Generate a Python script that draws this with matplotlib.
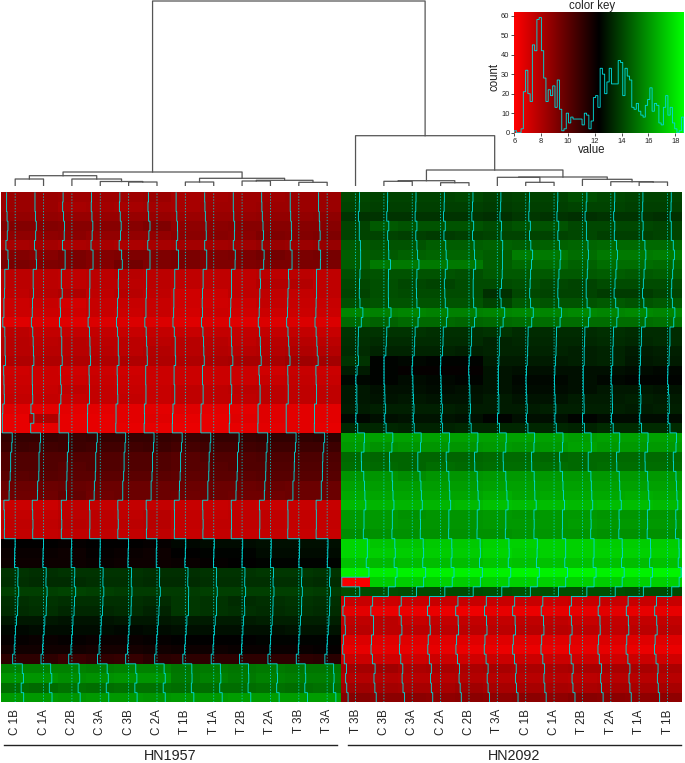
import numpy as np
import matplotlib
matplotlib.use('Agg')
import matplotlib.pyplot as plt
from matplotlib.colors import LinearSegmentedColormap

plt.rcParams['font.family'] = ['Liberation Sans', 'DejaVu Sans']

# column labels in dendrogram order
labels_hn1957 = ['C 1B', 'C 1A', 'C 2B', 'C 3A', 'C 3B', 'C 2A', 'T 1B', 'T 1A', 'T 2B', 'T 2A', 'T 3B', 'T 3A']
labels_hn2092 = ['T 3B', 'C 3B', 'C 3A', 'C 2A', 'C 2B', 'T 3A', 'C 1B', 'C 1A', 'T 2B', 'T 2A', 'T 1A', 'T 1B']

# values, one row per gene
values_hn1957 = [
    [8.5, 8.5, 8.4, 8.4, 8.4, 8.5, 8.2, 8.3, 8.4, 8.4, 8.5, 8.5],
    [8.5, 8.5, 8.2, 8.3, 8.2, 8.3, 8.2, 8.4, 8.4, 8.5, 8.5, 8.5],
    [8.7, 8.7, 8.6, 8.6, 8.6, 8.6, 8.5, 8.6, 8.6, 8.7, 8.7, 8.8],
    [9.1, 9.1, 9.0, 9.0, 9.0, 9.2, 8.8, 8.9, 9.0, 9.0, 9.0, 9.0],
    [8.8, 8.8, 8.9, 8.7, 8.7, 8.7, 8.9, 9.0, 8.9, 9.2, 9.1, 9.2],
    [8.2, 8.3, 8.1, 8.2, 8.1, 8.2, 8.3, 8.3, 8.4, 8.6, 8.5, 8.6],
    [9.1, 9.0, 9.3, 9.1, 9.2, 9.2, 9.3, 9.2, 9.3, 9.5, 9.3, 9.4],
    [9.3, 9.2, 9.3, 9.1, 9.5, 9.2, 9.3, 9.2, 9.2, 9.3, 9.3, 9.3],
    [7.7, 7.7, 7.6, 7.7, 7.8, 7.7, 7.6, 7.6, 7.6, 7.7, 7.7, 7.6],
    [7.7, 7.7, 7.6, 7.7, 7.7, 7.7, 7.6, 7.6, 7.6, 7.9, 7.9, 7.6],
    [7.6, 7.8, 8.0, 7.6, 7.8, 7.6, 7.2, 7.3, 7.6, 7.6, 7.5, 7.6],
    [7.3, 7.4, 7.1, 7.4, 7.4, 7.4, 7.2, 7.2, 7.3, 7.5, 7.4, 7.4],
    [7.3, 7.3, 7.2, 7.4, 7.3, 7.4, 7.1, 7.3, 7.2, 7.3, 7.3, 7.3],
    [6.8, 6.9, 6.8, 6.9, 6.9, 6.9, 6.8, 6.9, 6.8, 6.9, 6.9, 6.9],
    [7.7, 7.5, 7.5, 7.5, 7.4, 7.5, 7.4, 7.5, 7.5, 7.5, 7.5, 7.4],
    [7.8, 7.7, 7.8, 7.7, 7.7, 7.7, 7.8, 7.8, 7.6, 7.8, 7.8, 7.7],
    [7.8, 7.8, 7.8, 7.8, 7.7, 7.9, 7.8, 7.9, 7.8, 7.9, 8.0, 7.9],
    [8.0, 8.0, 8.0, 8.0, 8.0, 8.0, 8.0, 8.1, 8.2, 8.2, 8.4, 8.3],
    [7.2, 7.3, 7.2, 7.3, 7.2, 7.3, 7.3, 7.3, 7.3, 7.2, 7.4, 7.3],
    [7.3, 7.3, 7.3, 7.4, 7.3, 7.3, 7.3, 7.3, 7.3, 7.4, 7.5, 7.4],
    [7.4, 7.4, 7.6, 7.5, 7.4, 7.4, 7.6, 7.6, 7.7, 7.7, 7.6, 7.6],
    [7.5, 7.5, 7.4, 7.5, 7.5, 7.4, 7.6, 7.6, 7.6, 7.7, 7.6, 7.6],
    [6.8, 6.7, 6.7, 6.7, 6.7, 6.7, 6.8, 6.7, 6.7, 6.8, 6.7, 6.7],
    [6.6, 8.0, 6.6, 6.6, 6.7, 6.8, 6.6, 6.6, 6.8, 6.8, 6.7, 6.7],
    [6.6, 6.6, 6.6, 6.6, 6.6, 6.6, 6.5, 6.6, 6.6, 6.7, 6.7, 6.6],
    [11.0, 11.0, 10.9, 11.0, 11.0, 11.0, 10.9, 11.0, 11.0, 11.1, 11.1, 11.2],
    [10.8, 10.7, 10.8, 10.7, 10.7, 10.8, 10.6, 10.7, 10.7, 10.8, 10.8, 10.8],
    [10.3, 10.3, 10.3, 10.3, 10.3, 10.3, 10.2, 10.3, 10.3, 10.4, 10.4, 10.4],
    [10.3, 10.3, 10.2, 10.3, 10.3, 10.3, 10.2, 10.2, 10.3, 10.3, 10.3, 10.3],
    [10.1, 10.2, 10.1, 10.1, 10.1, 10.1, 10.0, 10.1, 10.1, 10.2, 10.2, 10.2],
    [9.7, 9.7, 9.8, 9.7, 9.7, 9.7, 9.7, 9.7, 9.7, 9.8, 9.7, 9.7],
    [9.6, 9.6, 9.9, 9.6, 9.7, 9.7, 9.6, 9.7, 9.6, 9.6, 9.7, 9.7],
    [7.3, 7.3, 7.6, 7.5, 7.5, 7.5, 7.4, 7.4, 7.5, 7.4, 7.4, 7.4],
    [7.5, 7.5, 7.7, 7.7, 7.6, 7.8, 7.5, 7.5, 7.6, 7.6, 7.5, 7.5],
    [7.6, 7.6, 7.8, 7.7, 7.7, 7.8, 7.5, 7.6, 7.6, 7.6, 7.5, 7.5],
    [7.5, 7.5, 7.6, 7.6, 7.5, 7.6, 7.4, 7.5, 7.5, 7.5, 7.4, 7.4],
    [12.3, 12.3, 12.2, 12.3, 12.3, 12.2, 12.5, 12.6, 12.6, 12.7, 12.7, 12.7],
    [12.1, 12.1, 12.0, 12.2, 12.1, 12.0, 12.3, 12.4, 12.4, 12.6, 12.6, 12.6],
    [12.0, 12.0, 12.0, 12.1, 12.0, 12.0, 12.1, 12.2, 12.3, 12.4, 12.4, 12.4],
    [13.6, 13.5, 13.6, 13.6, 13.6, 13.5, 13.5, 13.6, 13.6, 13.7, 13.7, 13.6],
    [13.5, 13.4, 13.4, 13.5, 13.5, 13.4, 13.4, 13.5, 13.5, 13.5, 13.5, 13.4],
    [13.9, 13.9, 14.0, 13.9, 13.8, 13.8, 13.8, 13.9, 13.9, 13.9, 13.9, 13.8],
    [13.5, 13.6, 13.5, 13.5, 13.5, 13.4, 13.7, 13.6, 13.4, 13.5, 13.6, 13.5],
    [13.4, 13.5, 13.3, 13.3, 13.4, 13.2, 13.7, 13.6, 13.5, 13.4, 13.5, 13.4],
    [12.9, 12.9, 12.8, 12.8, 12.9, 12.9, 13.0, 13.0, 13.0, 13.1, 13.1, 13.1],
    [12.5, 12.6, 12.6, 12.6, 12.5, 12.6, 12.7, 12.7, 12.7, 12.7, 12.8, 12.8],
    [12.2, 12.1, 12.2, 12.1, 12.1, 12.2, 12.3, 12.3, 12.3, 12.4, 12.4, 12.4],
    [11.9, 11.9, 11.9, 11.8, 11.8, 11.9, 12.0, 12.0, 12.1, 12.1, 12.1, 12.2],
    [11.2, 11.2, 10.9, 11.1, 11.0, 11.3, 11.2, 11.2, 11.2, 11.2, 11.2, 11.3],
    [15.5, 15.5, 15.5, 15.4, 15.5, 15.5, 15.2, 15.3, 15.2, 15.3, 15.2, 15.2],
    [16.0, 16.0, 15.8, 15.9, 16.0, 16.0, 15.3, 15.5, 15.3, 15.5, 15.4, 15.4],
    [15.0, 14.9, 15.1, 15.0, 15.1, 15.1, 15.0, 15.0, 15.0, 15.1, 15.0, 15.1],
    [16.1, 16.1, 16.0, 16.1, 16.1, 16.0, 16.1, 16.1, 16.2, 16.2, 16.2, 16.2],
]

values_hn2092 = [
    [14.1, 14.0, 14.0, 14.0, 14.1, 13.9, 14.0, 14.0, 14.3, 14.1, 14.0, 14.0],
    [14.0, 13.9, 13.9, 13.9, 13.9, 13.8, 13.9, 13.9, 14.0, 14.0, 13.9, 13.9],
    [13.6, 13.6, 13.6, 13.6, 13.6, 13.5, 13.7, 13.6, 13.5, 13.6, 13.6, 13.5],
    [14.0, 14.5, 14.4, 14.4, 14.4, 14.2, 14.4, 14.4, 14.1, 14.1, 14.1, 14.0],
    [14.0, 14.0, 13.9, 13.8, 13.9, 14.0, 14.0, 14.0, 14.1, 13.9, 13.9, 14.0],
    [14.5, 14.4, 14.4, 14.6, 14.6, 14.7, 14.6, 14.7, 14.8, 14.9, 14.9, 14.9],
    [14.6, 14.5, 14.7, 14.8, 14.8, 14.6, 15.4, 15.3, 15.0, 15.3, 15.3, 15.4],
    [14.6, 15.3, 15.3, 15.3, 15.3, 14.6, 14.9, 15.0, 14.7, 15.0, 15.0, 14.9],
    [14.3, 14.4, 14.4, 14.4, 14.3, 14.5, 14.5, 14.5, 14.5, 14.6, 14.5, 14.6],
    [14.1, 14.3, 14.1, 14.0, 14.2, 14.2, 14.3, 14.1, 14.0, 14.2, 14.2, 14.2],
    [14.0, 14.3, 14.2, 14.2, 14.2, 13.5, 14.1, 14.0, 14.0, 13.8, 13.8, 14.0],
    [14.3, 14.4, 14.4, 14.4, 14.4, 14.0, 14.5, 14.4, 14.4, 14.5, 14.4, 14.5],
    [15.6, 15.5, 15.6, 15.5, 15.5, 15.6, 15.7, 15.6, 15.7, 15.6, 15.7, 15.6],
    [14.9, 14.7, 14.9, 14.9, 14.8, 14.9, 15.0, 15.0, 15.0, 15.0, 15.0, 15.1],
    [13.6, 13.6, 13.6, 13.5, 13.5, 13.6, 13.4, 13.4, 13.4, 13.5, 13.4, 13.4],
    [13.5, 13.4, 13.4, 13.4, 13.4, 13.2, 13.3, 13.3, 13.3, 13.4, 13.3, 13.4],
    [13.4, 13.2, 13.2, 13.2, 13.1, 13.2, 13.2, 13.2, 13.1, 13.2, 13.0, 13.1],
    [13.6, 12.4, 12.5, 12.4, 12.4, 13.0, 13.0, 13.0, 13.1, 13.2, 12.9, 13.0],
    [13.0, 12.4, 12.2, 12.2, 12.2, 12.8, 12.7, 12.7, 12.7, 12.7, 12.6, 12.5],
    [12.5, 12.4, 12.6, 12.5, 12.4, 12.8, 12.5, 12.5, 12.7, 12.5, 12.4, 12.4],
    [12.9, 12.7, 12.7, 12.6, 12.7, 12.8, 12.6, 12.6, 12.7, 12.9, 12.9, 12.8],
    [12.9, 12.8, 12.9, 12.8, 12.8, 13.0, 12.8, 12.8, 13.0, 13.0, 13.1, 13.0],
    [13.0, 13.1, 13.1, 13.1, 13.0, 13.0, 13.0, 13.1, 13.1, 13.1, 13.0, 13.1],
    [12.5, 12.7, 12.8, 12.8, 12.7, 12.4, 12.7, 12.7, 12.4, 12.6, 12.6, 12.6],
    [13.3, 13.3, 13.2, 13.2, 13.3, 13.3, 13.3, 13.3, 13.2, 13.4, 13.4, 13.4],
    [16.3, 16.3, 16.3, 16.3, 16.3, 16.3, 16.3, 16.3, 16.2, 16.3, 16.3, 16.3],
    [16.1, 15.9, 16.0, 16.0, 16.0, 16.1, 16.0, 16.1, 16.3, 16.1, 16.1, 16.1],
    [14.9, 14.8, 14.8, 14.8, 14.8, 14.9, 14.9, 14.8, 14.9, 14.9, 14.9, 14.9],
    [15.0, 14.9, 14.8, 15.0, 14.9, 15.0, 15.0, 15.0, 14.9, 15.0, 15.0, 15.0],
    [16.0, 16.0, 15.8, 16.0, 16.0, 16.1, 16.1, 16.1, 16.1, 16.1, 16.1, 16.1],
    [16.3, 16.2, 16.2, 16.2, 16.2, 16.3, 16.3, 16.3, 16.3, 16.3, 16.3, 16.3],
    [16.5, 16.4, 16.4, 16.4, 16.4, 16.6, 16.4, 16.5, 16.5, 16.5, 16.6, 16.5],
    [16.9, 16.8, 16.8, 16.8, 16.9, 17.1, 17.0, 17.0, 16.9, 17.0, 17.0, 16.9],
    [16.1, 16.1, 15.9, 16.0, 16.0, 16.1, 16.0, 16.1, 16.1, 16.0, 16.0, 16.0],
    [16.1, 16.1, 16.0, 16.0, 16.0, 16.1, 16.1, 16.1, 16.2, 16.1, 16.1, 16.1],
    [15.8, 15.9, 15.9, 15.9, 15.9, 15.9, 16.0, 16.0, 16.0, 15.9, 15.9, 15.9],
    [17.6, 17.2, 17.2, 17.3, 17.3, 17.5, 17.5, 17.5, 17.5, 17.4, 17.4, 17.4],
    [17.6, 17.4, 17.4, 17.4, 17.4, 17.6, 17.4, 17.5, 17.5, 17.5, 17.5, 17.5],
    [17.1, 16.9, 17.0, 17.0, 17.0, 17.2, 17.1, 17.1, 17.1, 17.1, 17.0, 17.1],
    [18.3, 18.2, 18.3, 18.3, 18.3, 18.3, 18.4, 18.3, 18.4, 18.3, 18.3, 18.4],
    [6.2, 17.4, 17.4, 17.5, 17.4, 17.5, 17.5, 17.5, 17.5, 17.4, 17.5, 17.5],
    [14.2, 14.3, 14.2, 14.2, 14.2, 14.3, 14.4, 14.3, 14.3, 14.3, 14.2, 14.2],
    [7.4, 7.3, 7.4, 7.4, 7.4, 7.4, 7.4, 7.3, 7.4, 7.4, 7.4, 7.4],
    [6.7, 6.5, 6.5, 6.5, 6.4, 6.6, 6.5, 6.6, 6.6, 6.7, 6.6, 6.6],
    [7.6, 7.7, 7.4, 7.5, 7.5, 7.5, 7.6, 7.6, 7.4, 7.5, 7.5, 7.5],
    [7.8, 7.7, 7.7, 7.7, 7.7, 7.7, 7.8, 7.8, 7.7, 7.6, 7.7, 7.7],
    [6.9, 6.8, 6.8, 6.8, 6.8, 6.8, 6.8, 6.8, 6.8, 6.9, 6.8, 6.8],
    [6.6, 6.6, 6.6, 6.6, 6.5, 6.5, 6.5, 6.5, 6.6, 6.6, 6.5, 6.5],
    [7.3, 7.2, 7.2, 7.3, 7.2, 7.3, 7.3, 7.3, 7.3, 7.2, 7.3, 7.2],
    [8.3, 8.4, 8.1, 8.2, 8.1, 8.2, 8.1, 8.1, 8.2, 8.2, 8.2, 8.1],
    [7.9, 7.9, 7.8, 7.8, 7.9, 7.8, 7.8, 7.8, 7.7, 7.8, 7.8, 7.8],
    [8.4, 8.3, 8.2, 8.2, 8.4, 8.2, 8.2, 8.2, 8.1, 8.2, 8.2, 8.2],
    [9.0, 8.9, 8.9, 8.8, 8.9, 8.8, 8.9, 8.8, 9.0, 8.9, 8.8, 8.8],
]

# merges as (left node, right node, height); leaves are 0-11, merges count on from 12
merges_hn1957 = [(0, 1, 7), (4, 5, 4), (3, 13, 4.5), (2, 14, 7), (12, 15, 10.3), (6, 7, 4),
                 (8, 9, 5), (10, 11, 3.7), (18, 19, 5.7), (17, 20, 7.7), (16, 21, 14)]
merges_hn2092 = [(1, 2, 4.7), (3, 4, 3.3), (12, 13, 5.3), (6, 7, 3.7), (5, 15, 8.7), (10, 11, 4),
                 (9, 17, 4.3), (8, 18, 6.7), (16, 19, 9), (14, 20, 16), (0, 21, 50.3)]
root_height = 185

# colour key histogram counts
hist_counts = [1, 0, 0, 2, 21, 32, 20, 16, 45, 42, 58, 59, 42, 28, 16, 22, 19, 24, 13, 27, 12, 1, 2, 10, 5,
               8, 7, 7, 7, 7, 4, 10, 9, 2, 6, 18, 19, 13, 33, 30, 20, 26, 33, 25, 25, 25, 37, 36, 19, 33,
               29, 27, 13, 12, 15, 11, 9, 8, 14, 17, 23, 11, 15, 14, 5, 4, 13, 19, 9, 13, 5, 2, 0, 1, 8]
hist_start = 6.0
hist_stop = 18.63

W, H = 685, 763
VMIN, VMAX = 6.0, 18.65
TRACE = '#00d8d8'
DEND = '#555555'
cmap = LinearSegmentedColormap.from_list('rkg', ['#ff0000', '#000000', '#00ff00'], N=256)


def px_axes(fig, left, top, right, bottom):
    return fig.add_axes([left / W, 1 - bottom / H, (right - left) / W, (bottom - top) / H])


def draw_tree(ax, merges, offset):
    # returns the x and height of the top node
    nodes = [(offset + i + 0.5, 0) for i in range(12)]
    for a, b, h in merges:
        xa, ha = nodes[a]
        xb, hb = nodes[b]
        ax.plot([xa, xa, xb, xb], [ha, h, h, hb], color=DEND, lw=0.9, snap=False)
        nodes.append(((xa + xb) / 2, h))
    return nodes[-1]


fig = plt.figure(figsize=(W / 100, H / 100), dpi=100, facecolor='white')

# heatmap
heat = np.hstack([np.array(values_hn1957), np.array(values_hn2092)])
n_rows, n_cols = heat.shape
ax = px_axes(fig, 1, 192.3, 681.7, 702.3)
ax.pcolormesh(np.arange(n_cols + 1), np.arange(n_rows + 1), heat, cmap=cmap, vmin=VMIN, vmax=VMAX)
ax.set_xlim(0, n_cols)
ax.set_ylim(n_rows, 0)
for s in ax.spines.values():
    s.set_visible(False)
ax.set_yticks([])
ax.set_xticks(np.arange(n_cols) + 0.5)
ax.set_xticklabels(labels_hn1957 + labels_hn2092, rotation=90, fontsize=8.4, color='#222222')
ax.tick_params(axis='x', length=0, pad=5)

# column traces, heatmap.2 style
edges = np.arange(n_rows + 1)
for c in range(n_cols):
    centre = c + 0.5
    ax.axvline(centre, color=TRACE, lw=0.6, ls=(0, (1.5, 2)), snap=False)
    tr = centre + (heat[:, c] - VMIN) / (VMAX - VMIN) - 0.5
    ax.stairs(tr, edges, orientation='horizontal', baseline=None, color=TRACE, lw=0.65, snap=False)

# column dendrogram
dend = px_axes(fig, 1, 0, 681.7, 186)
dend.set_xlim(0, n_cols)
dend.set_ylim(0, 186)
dend.axis('off')
xl, hl = draw_tree(dend, merges_hn1957, 0)
xr, hr = draw_tree(dend, merges_hn2092, 12)
dend.plot([xl, xl, xr, xr], [hl, root_height, root_height, hr], color=DEND, lw=0.9, snap=False)

# group brackets
over = fig.add_axes([0, 0, 1, 1])
over.set_xlim(0, W)
over.set_ylim(H, 0)
over.axis('off')
over.plot([4, 337], [745, 745], color='#222222', lw=1)
over.plot([348, 681], [745, 745], color='#222222', lw=1)
over.text(170, 756, 'HN1957', ha='center', va='center', fontsize=10.4, color='#222222')
over.text(514, 756, 'HN2092', ha='center', va='center', fontsize=10.4, color='#222222')

# colour key
key = px_axes(fig, 514.3, 11.7, 684, 132.7)
key.imshow(np.linspace(VMIN, VMAX, 256)[None, :], cmap=cmap, vmin=VMIN, vmax=VMAX, aspect='auto',
           extent=[hist_start, VMAX, 0, 62], interpolation='bilinear')
hist_edges = np.linspace(hist_start, hist_stop, len(hist_counts) + 1)
key.stairs(hist_counts, hist_edges, color=TRACE, lw=0.65, baseline=0, snap=False)
key.set_xlim(hist_start, VMAX)
key.set_ylim(0, 62)
for s in key.spines.values():
    s.set_visible(False)
key.set_xticks(range(6, 19, 2))
key.set_yticks(range(0, 61, 10))
key.tick_params(labelsize=5.4, length=2, width=0.6, pad=1.5, color='#333333', labelcolor='#222222')
key.set_xlabel('value', fontsize=8.3, labelpad=0, color='#222222')
key.xaxis.set_label_coords(0.456, -0.09)
key.set_ylabel('count', fontsize=8.3, labelpad=1, color='#222222')
key.yaxis.set_label_coords(-0.084, 0.46)
key.set_title('color key', fontsize=8.3, x=0.456, pad=1, color='#222222')

plt.savefig('out.png', dpi=100, facecolor='white')
plt.close()
